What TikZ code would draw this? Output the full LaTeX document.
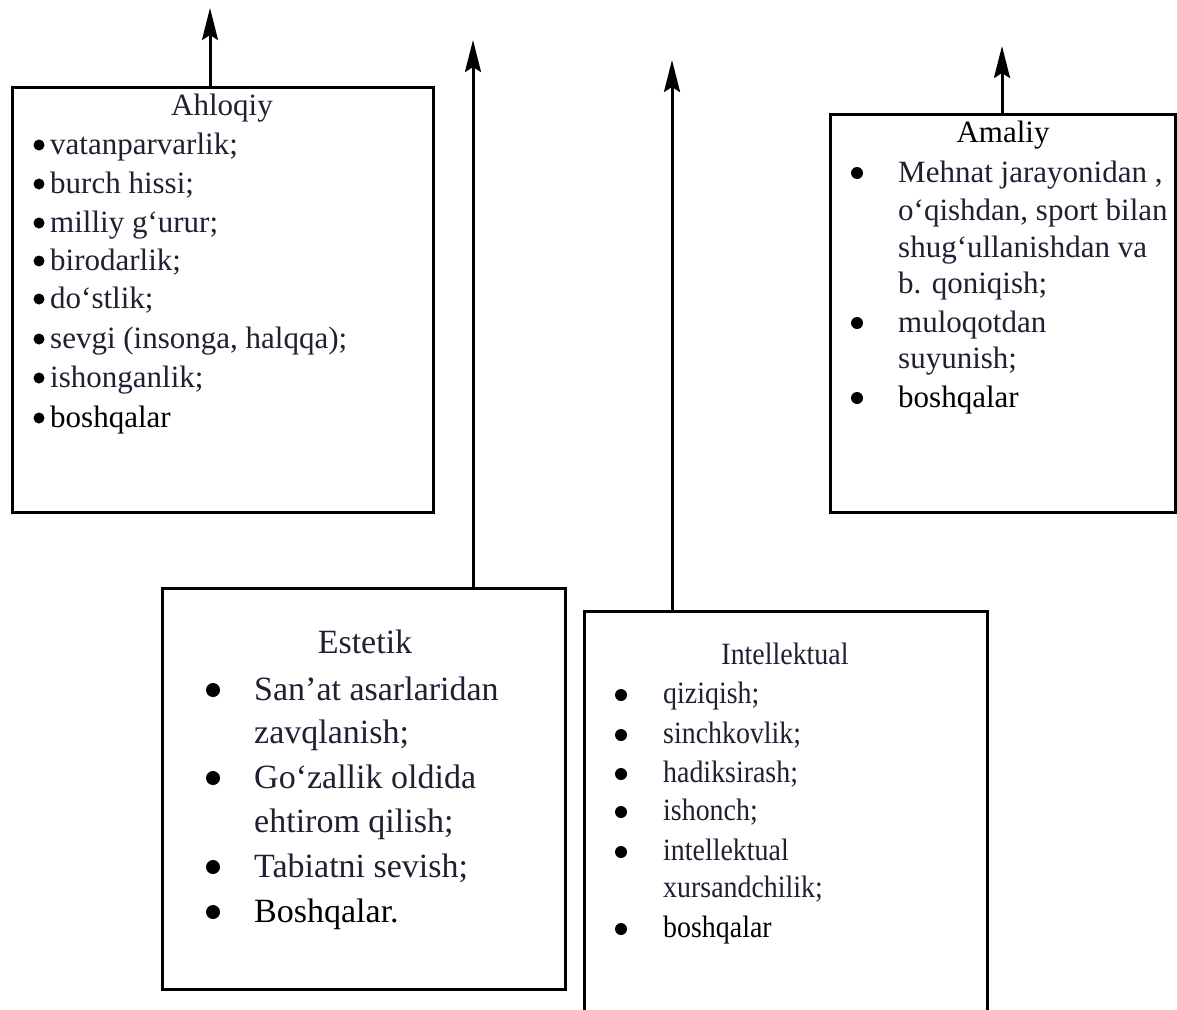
\documentclass[tikz,border=0pt]{standalone}
\usepackage{fontspec}
\setmainfont{Liberation Serif}
\newfontfamily\condfont[FakeStretch=0.9]{Liberation Serif}
\usetikzlibrary{arrows.meta}
\definecolor{textc}{RGB}{32,32,50}
\tikzset{
  box/.style={draw=black, line width=3pt, rectangle, inner sep=0pt},
  arr/.style={draw=black, line width=3pt, -{Stealth[length=32pt,width=16pt,inset=5pt]}},
  ln/.style={anchor=base west, inner sep=0pt, text=textc},
  hd/.style={anchor=base, inner sep=0pt, text=textc},
  bul/.style={circle, fill=black, inner sep=0pt, minimum size=#1},
}
\begin{document}
\begin{tikzpicture}[x=1pt,y=-1pt]
\clip (0,0) rectangle (1177,1009);
\fill[white] (0,0) rectangle (1177,1009);

% boxes
\node[box, minimum width=421pt, minimum height=425pt] (ahl) at (222.5,299.5) {};
\node[box, minimum width=345pt, minimum height=398pt] (ama) at (1002.5,313) {};
\node[box, minimum width=403pt, minimum height=401pt] (est) at (363.5,788.5) {};
\node[box, minimum width=403pt, minimum height=440pt] (int) at (785.5,831) {};

% arrow ends
\coordinate (tA) at (210,8);
\coordinate (tM) at (1002,46);
\coordinate (tE) at (473,40);
\coordinate (tI) at (672,60);
\draw[arr] (ahl.north -| tA) -- (tA);
\draw[arr] (ama.north -| tM) -- (tM);
\draw[arr] (est.north -| tE) -- (tE);
\draw[arr] (int.north -| tI) -- (tI);

% Ahloqiy
\begin{scope}[font=\fontsize{31}{36}\selectfont]
\node[hd] (ahlh) at (222,115) {Ahloqiy};
\foreach \y/\t/\c [count=\i] in {154/vatanparvarlik;/textc, 193/burch hissi;/textc, 232/milliy g‘urur;/textc, 270/birodarlik;/textc, 308/do‘stlik;/textc, 348/{sevgi (insonga, halqqa);}/textc, 387/ishonganlik;/textc, 427/boshqalar/black}{
  \node[bul=11pt] (ab\i) at (39,\y-9) {};
  \node[ln, text=\c] (at\i) at (50,\y) {\t};
}
\end{scope}

% Amaliy
\begin{scope}[font=\fontsize{31}{36}\selectfont]
\node[hd, text=black] (amah) at (1003,142) {Amaliy};
\node[bul=12pt] (mb1) at (857,173) {};
\node[ln] (mt1) at (898,182) {Mehnat jarayonidan ,};
\node[ln] (mt2) at (898,220) {o‘qishdan, sport bilan};
\node[ln] (mt3) at (898,257) {shug‘ullanishdan va};
\node[ln] (mt4) at (898,293) {b. qoniqish;};
\node[bul=12pt] (mb2) at (857,323) {};
\node[ln] (mt5) at (898,332) {muloqotdan};
\node[ln] (mt6) at (898,368) {suyunish;};
\node[bul=12pt] (mb3) at (857,398) {};
\node[ln, text=black] (mt7) at (898,407) {boshqalar};
\end{scope}

% Estetik
\begin{scope}[font=\fontsize{34}{40}\selectfont]
\node[hd] (esth) at (365,653) {Estetik};
\node[bul=14pt] (eb1) at (213,690) {};
\node[ln] (et1) at (254,700) {San’at asarlaridan};
\node[ln] (et2) at (254,743) {zavqlanish;};
\node[bul=14pt] (eb2) at (213,778) {};
\node[ln] (et3) at (254,788) {Go‘zallik oldida};
\node[ln] (et4) at (254,832) {ehtirom qilish;};
\node[bul=14pt] (eb3) at (213,867) {};
\node[ln] (et5) at (254,877) {Tabiatni sevish;};
\node[bul=14pt] (eb4) at (213,912) {};
\node[ln, text=black] (et6) at (254,922) {Boshqalar.};
\end{scope}

% Intellektual
\begin{scope}[font=\condfont\fontsize{31}{36}\selectfont]
\node[hd] (inth) at (785,664) {Intellektual};
\foreach \y/\t/\c [count=\i] in {703/qiziqish;/textc, 743/sinchkovlik;/textc, 782/hadiksirash;/textc, 820/ishonch;/textc, 860/intellektual/textc, 937/boshqalar/black}{
  \node[bul=12pt] (ib\i) at (621,\y-8) {};
  \node[ln, text=\c] (it\i) at (663,\y) {\t};
}
\node[ln] (itx) at (663,897) {xursandchilik;};
\end{scope}
\end{tikzpicture}
\end{document}
